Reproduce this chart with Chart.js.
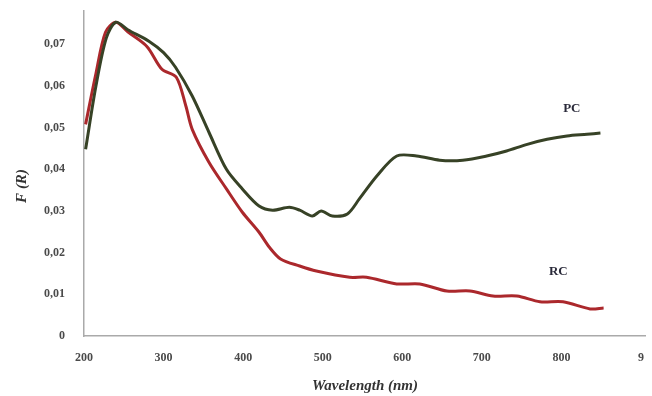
<!DOCTYPE html>
<html>
<head>
<meta charset="utf-8">
<script src="https://cdn.jsdelivr.net/npm/chart.js@4"></script>
<style>
  html,body{margin:0;padding:0;background:#fff;}
  #wrap{width:652px;height:396px;}
</style>
</head>
<body>
<div id="wrap"><canvas id="c" width="652" height="396"></canvas></div>
<script>
const pcX = [202,215,228,240,255,282,300,315,336,357,379,399,420,437,458,471,487,498,512,531,546,568,593,618,647,676,706,731,757,782,807,832,849];
const pcY = [0.0448,0.060,0.0715,0.0753,0.0735,0.0707,0.0680,0.0645,0.0576,0.0489,0.0400,0.0353,0.0312,0.0302,0.0309,0.0302,0.0288,0.0300,0.0288,0.0293,0.0329,0.0384,0.0432,0.0432,0.0422,0.0422,0.0432,0.0444,0.0460,0.0472,0.0480,0.0484,0.0487];
const rcX = [202,215,227,240,255,279,298,316,328,336,357,379,399,420,433,447,471,492,534,555,593,622,656,685,714,744,773,802,836,853];
const rcY = [0.0508,0.0630,0.0729,0.0753,0.0730,0.0695,0.0640,0.0621,0.0552,0.0496,0.0417,0.0353,0.0297,0.0249,0.0213,0.0185,0.0168,0.0156,0.0141,0.0141,0.0125,0.0125,0.0108,0.0108,0.0096,0.0096,0.0082,0.0082,0.0065,0.0067];
const xTickLabels = {200:"200",300:"300",400:"400",500:"500",600:"600",700:"700",800:"800",900:"9"};
const seriesNames = ["PC","RC"];
const xTitle = "Wavelength (nm)";
const yTitle = "F (R)";

const serif = "'Liberation Serif','DejaVu Serif',serif";
const toPts = (xs, ys) => xs.map((x,i)=>({x:x,y:ys[i]}));

const textPlugin = {
  id:'texts',
  afterDraw(chart){
    const ctx = chart.ctx, xs = chart.scales.x, ys = chart.scales.y;
    ctx.save();
    ctx.fillStyle = '#333';
    ctx.textAlign = 'center';
    ctx.textBaseline = 'middle';
    ctx.font = "italic bold 15px " + serif;
    ctx.fillText(xTitle, 365, 386);
    ctx.save();
    ctx.translate(22, 186);
    ctx.rotate(-Math.PI/2);
    ctx.fillText(yTitle, 0, 0);
    ctx.restore();
    ctx.font = "bold 13px " + serif;
    ctx.fillStyle = '#2a2a3a';
    ctx.fillText(seriesNames[0], xs.getPixelForValue(813), ys.getPixelForValue(0.0545));
    ctx.fillText(seriesNames[1], xs.getPixelForValue(796), ys.getPixelForValue(0.0154));
    ctx.restore();
  }
};

new Chart(document.getElementById('c'), {
  type:'line',
  data:{
    datasets:[
      {label:seriesNames[0], data:toPts(pcX,pcY), borderColor:'#374226', borderWidth:3, pointRadius:0, tension:0.3, fill:false},
      {label:seriesNames[1], data:toPts(rcX,rcY), borderColor:'#ab282c', borderWidth:3, pointRadius:0, tension:0.3, fill:false}
    ]
  },
  options:{
    responsive:false,
    animation:false,
    layout:{autoPadding:false, padding:{top:11,right:7,left:0,bottom:0}},
    plugins:{legend:{display:false},tooltip:{enabled:false}},
    scales:{
      x:{
        type:'linear', min:200, max:905,
        afterBuildTicks(s){ s.ticks = [200,300,400,500,600,700,800,900].map(v=>({value:v})); },
        afterFit(s){ s.height = 60; s.paddingLeft = 0; s.paddingRight = 0; },
        grid:{display:false, drawTicks:false},
        border:{display:true, color:'#aaaaaa', width:1.5},
        ticks:{padding:15, color:'#4a4a4a', font:{family:serif, weight:'bold', size:12}, maxRotation:0,
          callback:(v)=>xTickLabels[v] ?? ''}
      },
      y:{
        type:'linear', min:0, max:0.078,
        afterBuildTicks(s){ s.ticks = [0,0.01,0.02,0.03,0.04,0.05,0.06,0.07].map(v=>({value:v})); },
        afterFit(s){ s.width = 84; s.paddingTop = 0; s.paddingBottom = 0; },
        grid:{display:false, drawTicks:false},
        border:{display:true, color:'#aaaaaa', width:1.5},
        ticks:{padding:19, color:'#4a4a4a', font:{family:serif, weight:'bold', size:12},
          callback:(v)=> v===0 ? '0' : v.toFixed(2).replace('.',',')}
      }
    }
  },
  plugins:[textPlugin]
});
</script>
</body>
</html>
